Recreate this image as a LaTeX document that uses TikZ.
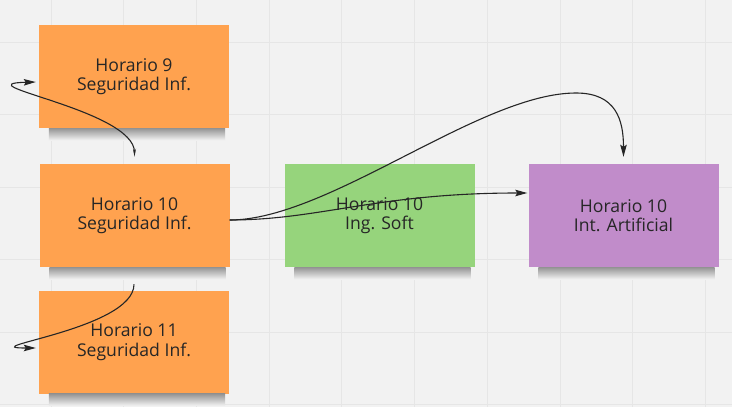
\documentclass[tikz,border=0pt]{standalone}
\usepackage{fontspec}
\setmainfont{Open Sans}
\usetikzlibrary{arrows.meta}
\definecolor{board}{HTML}{F2F2F2}
\definecolor{gridgray}{HTML}{E6E6E6}
\definecolor{stickyorange}{HTML}{FFA24F}
\definecolor{stickygreen}{HTML}{96D47C}
\definecolor{stickypurple}{HTML}{C18CCA}
\definecolor{ink}{HTML}{262626}
\begin{document}
\begin{tikzpicture}[x=1pt,y=-1pt,
  sticky/.style={rectangle, minimum width=190pt, minimum height=103pt, inner sep=0pt,
    align=center, font=\fontsize{17.6}{19.5}\selectfont, text=ink},
  link/.style={draw=ink, line width=1.1pt},
  >={Stealth[length=12pt,width=6.5pt,inset=2pt]}]
  \useasboundingbox (0,0) rectangle (732,407);
  \fill[board] (0,0) rectangle (732,407);
  \foreach \gx in {0,...,9}
    \draw[gridgray, line width=0.8pt] ({51+72.7*\gx},0) -- ({51+72.7*\gx},407);
  \foreach \gy in {0,...,5}
    \draw[gridgray, line width=0.8pt] (0,{42+72.5*\gy}) -- (732,{42+72.5*\gy});
  \node[sticky, fill=stickyorange] (h9) at (134,76.5) {Horario 9\\Seguridad Inf.};
  \node[sticky, fill=stickyorange] (h10) at (134.5,215.5) {Horario 10\\Seguridad Inf.};
  \node[sticky, fill=stickyorange] (h11) at (134,342) {Horario 11\\Seguridad Inf.};
  \node[sticky, fill=stickygreen] (soft) at (379.5,215.5) {Horario 10\\Ing. Soft};
  \node[sticky, fill=stickypurple] (ia) at (623.5,215.5) {Horario 10\\Int. Artificial};
  \foreach \n in {h9,h10,h11,soft,ia}
    \shade[top color=black!42, bottom color=board]
      ([xshift=10pt]\n.south west) rectangle ([xshift=-4pt,yshift=-12pt]\n.south east);
  \coordinate (peak) at (576,93);
  \draw[link, {Stealth[length=8pt,width=3pt]}->] ([yshift=7pt]h10.north) .. controls +(0,-47) and +(-76,2) .. ([xshift=-3pt,yshift=-5.5pt]h9.west);
  \draw[link, ->] ([yshift=6pt]h11.north) .. controls +(0,45) and +(-66,0) .. ([xshift=-3pt,yshift=-6pt]h11.west);
  \draw[link, ->] ([yshift=-4.5pt]h10.east) .. controls +(90,0) and +(-150,0) .. ([xshift=-1pt,yshift=22.5pt]ia.west);
  \draw[link, ->] ([yshift=-4.5pt]h10.east) .. controls +(99,0) and +(-96,0) .. (peak)
    .. controls +(40,0) and +(0,-37) .. ([yshift=7pt]ia.north);
\end{tikzpicture}
\end{document}
